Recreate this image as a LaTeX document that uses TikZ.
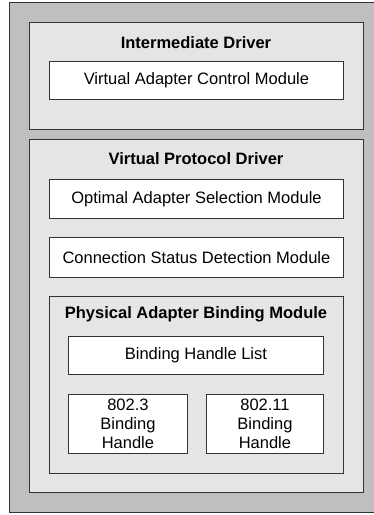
\documentclass[tikz,border=0pt]{standalone}
\usepackage{fontspec}
\setmainfont{Liberation Sans}
\begin{document}
\begin{tikzpicture}[x=1pt,y=-1pt,
  frame/.style={draw=black!80,line width=0.9pt,inner sep=0pt,anchor=north west},
  layer/.style={frame,fill=black!25},
  group/.style={frame,fill=black!10},
  module/.style={frame,fill=white,font=\fontsize{16.5}{19}\selectfont,align=center},
  title/.style={font=\fontsize{16.5}{19}\selectfont\bfseries,inner sep=0pt}]
\useasboundingbox (0,0) rectangle (374,515);
% outer layer (runs off the right edge)
\node[layer,minimum width=370pt,minimum height=510pt] (outer) at (9,2) {};
% intermediate driver
\node[group,minimum width=334pt,minimum height=107pt] (idrv) at (29,22) {};
\node[title] (idrvt) at (196,43) {Intermediate Driver};
\node[module,minimum width=294pt,minimum height=38pt] (vacm) at (49,61) {Virtual Adapter Control Module};
% virtual protocol driver
\node[group,minimum width=334pt,minimum height=353pt] (vpd) at (29,139) {};
\node[title] (vpdt) at (196,159) {Virtual Protocol Driver};
\node[module,minimum width=294pt,minimum height=39pt] (oasm) at (49,179) {Optimal Adapter Selection Module};
\node[module,minimum width=294pt,minimum height=40pt] (csdm) at (49,237) {Connection Status Detection Module};
% physical adapter binding module
\node[group,minimum width=294pt,minimum height=177pt] (pabm) at (49,296) {};
\node[title] (pabmt) at (196,314) {Physical Adapter Binding Module};
\node[module,minimum width=255pt,minimum height=38pt] (bhl) at (68,336) {Binding Handle List};
\node[module,minimum width=119pt,minimum height=59pt] (bh3) at (68,394) {802.3\\Binding\\Handle};
\node[module,minimum width=117pt,minimum height=59pt] (bh11) at (206,394) {802.11\\Binding\\Handle};
\end{tikzpicture}
\end{document}
